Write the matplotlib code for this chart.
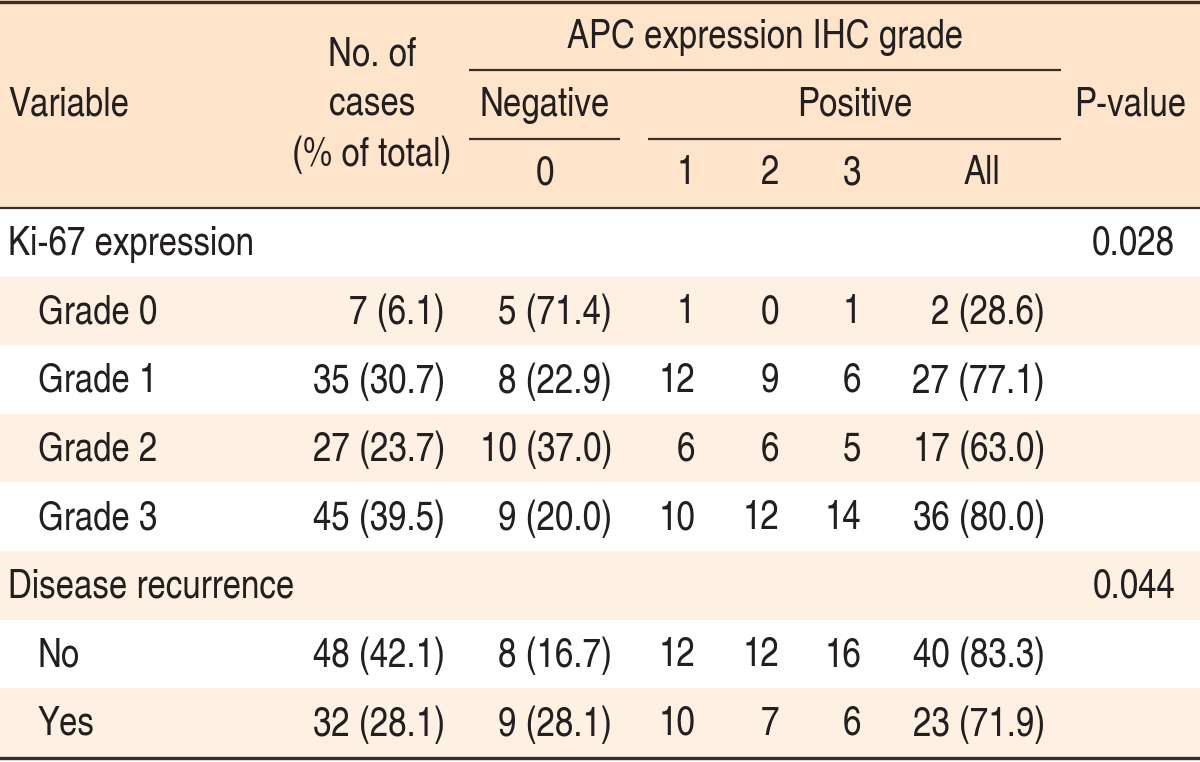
import matplotlib
matplotlib.use("Agg")
import matplotlib.pyplot as plt
from matplotlib.patches import Rectangle

plt.rcParams['font.family'] = ['TeX Gyre Heros Cn', 'DejaVu Sans']

# ---- data ----
group_labels = ["Ki-67 expression", "Disease recurrence"]
p_values = ["0.028", "0.044"]

ki67_levels = ["Grade 0", "Grade 1", "Grade 2", "Grade 3"]
ki67_cases = ["7 (6.1)", "35 (30.7)", "27 (23.7)", "45 (39.5)"]
ki67_neg0 = ["5 (71.4)", "8 (22.9)", "10 (37.0)", "9 (20.0)"]
ki67_pos1 = [1, 12, 6, 10]
ki67_pos2 = [0, 9, 6, 12]
ki67_pos3 = [1, 6, 5, 14]
ki67_all = ["2 (28.6)", "27 (77.1)", "17 (63.0)", "36 (80.0)"]

rec_levels = ["No", "Yes"]
rec_cases = ["48 (42.1)", "32 (28.1)"]
rec_neg0 = ["8 (16.7)", "9 (28.1)"]
rec_pos1 = [12, 10]
rec_pos2 = [12, 7]
rec_pos3 = [16, 6]
rec_all = ["40 (83.3)", "23 (71.9)"]

header_main = "APC expression IHC grade"
header_sub = ["Negative", "Positive"]
header_grades = ["0", "1", "2", "3", "All"]

# ---- styling ----
W, H = 1200, 762
HEADER_BG = "#FDE4CB"
STRIPE_BG = "#FEF1E4"
TXT = "#231F20"
LINE = "#3A2E29"
FS = 29

fig = plt.figure(figsize=(W / 100, H / 100), dpi=100)
ax = fig.add_axes([0, 0, 1, 1])
ax.set_xlim(0, W)
ax.set_ylim(H, 0)
ax.axis("off")

header_h = 208
row_h = 68.6

# header background
ax.add_patch(Rectangle((0, 0), W, header_h, color=HEADER_BG, lw=0, zorder=0))

# build row list
rows = []
rows.append(("group", group_labels[0], "", "", "", "", "", "", p_values[0]))
for i in range(len(ki67_levels)):
    rows.append(("level", ki67_levels[i], ki67_cases[i], ki67_neg0[i],
                 str(ki67_pos1[i]), str(ki67_pos2[i]), str(ki67_pos3[i]), ki67_all[i], ""))
rows.append(("group", group_labels[1], "", "", "", "", "", "", p_values[1]))
for i in range(len(rec_levels)):
    rows.append(("level", rec_levels[i], rec_cases[i], rec_neg0[i],
                 str(rec_pos1[i]), str(rec_pos2[i]), str(rec_pos3[i]), rec_all[i], ""))

col_right = [445, 612, 695, 779, 861, 1045, 1175]

for r, row in enumerate(rows):
    y0 = header_h + r * row_h
    if r % 2 == 1:
        ax.add_patch(Rectangle((0, y0), W, row_h, color=STRIPE_BG, lw=0, zorder=0))
    yc = y0 + row_h / 2 + 2
    kind, label = row[0], row[1]
    ax.text(8 if kind == "group" else 38, yc, label, fontsize=FS, color=TXT,
            ha="left", va="center")
    for c, val in enumerate(row[2:]):
        if val:
            ax.text(col_right[c], yc, val, fontsize=FS, color=TXT, ha="right", va="center")

# header texts
ax.text(8, 105, "Variable", fontsize=FS, color=TXT, ha="left", va="center")
for txt, y in zip(["No. of", "cases", "(% of total)"], [55, 105, 155]):
    ax.text(372, y, txt, fontsize=FS, color=TXT, ha="center", va="center")
ax.text(765, 37, header_main, fontsize=FS, color=TXT, ha="center", va="center")
ax.text(545, 105, header_sub[0], fontsize=FS, color=TXT, ha="center", va="center")
ax.text(855, 105, header_sub[1], fontsize=FS, color=TXT, ha="center", va="center")
ax.text(1130, 105, "P-value", fontsize=FS, color=TXT, ha="center", va="center")
for txt, x in zip(header_grades, [545, 686, 770, 852, 982]):
    ax.text(x, 174, txt, fontsize=FS, color=TXT, ha="center", va="center")

# header rules
ax.plot([469, 1061], [70, 70], color=LINE, lw=1.6, solid_capstyle="butt")
ax.plot([469, 620], [139, 139], color=LINE, lw=1.6, solid_capstyle="butt")
ax.plot([648, 1061], [139, 139], color=LINE, lw=1.6, solid_capstyle="butt")

# table borders
ax.plot([0, W], [1.5, 1.5], color=LINE, lw=2.4)
ax.plot([0, W], [header_h, header_h], color=LINE, lw=1.6)
ax.plot([0, W], [header_h + len(rows) * row_h + 1, header_h + len(rows) * row_h + 1], color=LINE, lw=2.4)

fig.savefig("out.png", dpi=100)
